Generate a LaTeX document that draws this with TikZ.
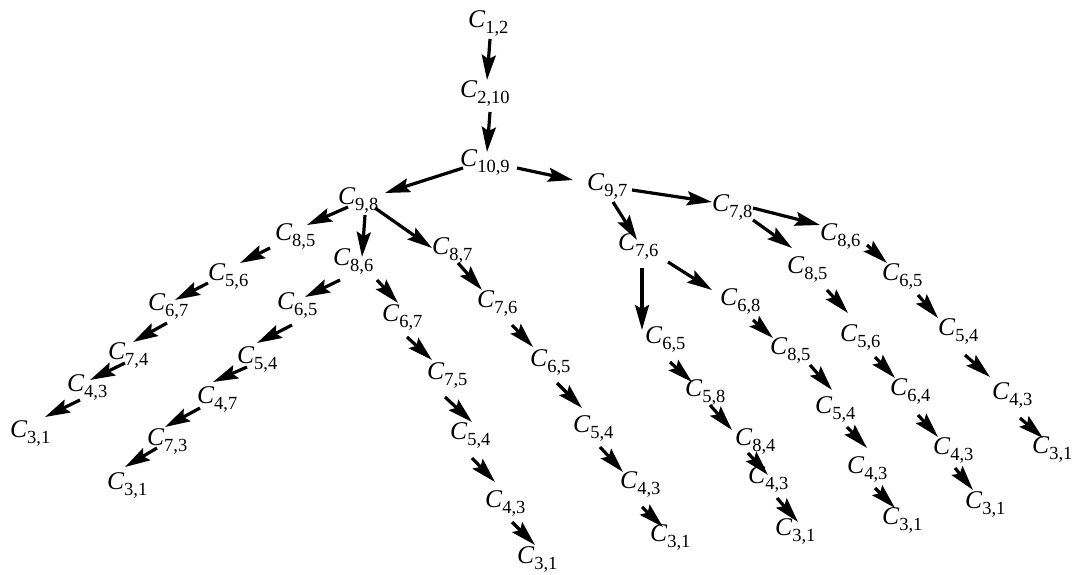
\documentclass[tikz,border=0pt]{standalone}
\usepackage{fontspec}
\setmainfont{Liberation Serif}
\usetikzlibrary{arrows.meta}
\newcommand{\Cs}[1]{\textit{C}\raisebox{-6pt}{\fontsize{18.5}{18.5}\selectfont #1}}
\newcommand{\lnk}[4]{\draw[conn] ([shift={#2}]#1.base west) -- ([shift={#4}]#3.base west);}
\tikzset{
  lbl/.style={inner sep=0pt, outer sep=0pt, anchor=base west, font=\fontsize{25.5}{30}\selectfont},
  conn/.style={line width=3.2pt, -{Stealth[length=25pt,width=14pt,inset=4pt]}}
}
\begin{document}
\begin{tikzpicture}[x=1pt,y=-1pt]
\useasboundingbox (0,0) rectangle (1073,574);
% nodes
\node[lbl] (n12)  at (468,27)  {\Cs{1,2}};
\node[lbl] (n210) at (460,97)  {\Cs{2,10}};
\node[lbl] (n109) at (460,166) {\Cs{10,9}};
\node[lbl] (n98)  at (338,204) {\Cs{9,8}};
\node[lbl] (n97)  at (587,190) {\Cs{9,7}};
\node[lbl] (n78)  at (712,211) {\Cs{7,8}};
\node[lbl] (n86r) at (820,240) {\Cs{8,6}};
\node[lbl] (n76r) at (618,250) {\Cs{7,6}};
\node[lbl] (n85r) at (787,273) {\Cs{8,5}};
\node[lbl] (n65r) at (645,343) {\Cs{6,5}};
\node[lbl] (n68)  at (720,305) {\Cs{6,8}};
\node[lbl] (n56r) at (840,341) {\Cs{5,6}};
\node[lbl] (n85b) at (770,354) {\Cs{8,5}};
\node[lbl] (n54b) at (815,413) {\Cs{5,4}};
\node[lbl] (n43b) at (847,473) {\Cs{4,3}};
\node[lbl] (n31b) at (882,524) {\Cs{3,1}};
\node[lbl] (n58)  at (685,396) {\Cs{5,8}};
\node[lbl] (n84)  at (735,445) {\Cs{8,4}};
\node[lbl] (n43c) at (748,483) {\Cs{4,3}};
\node[lbl] (n31c) at (775,535) {\Cs{3,1}};
\node[lbl] (n65s) at (882,280) {\Cs{6,5}};
\node[lbl] (n54s) at (938,335) {\Cs{5,4}};
\node[lbl] (n43s) at (992,399) {\Cs{4,3}};
\node[lbl] (n31s) at (1032,453) {\Cs{3,1}};
\node[lbl] (n64)  at (890,395) {\Cs{6,4}};
\node[lbl] (n43t) at (933,454) {\Cs{4,3}};
\node[lbl] (n31t) at (965,508) {\Cs{3,1}};
\node[lbl] (n85l) at (275,240) {\Cs{8,5}};
\node[lbl] (n56l) at (208,280) {\Cs{5,6}};
\node[lbl] (n67l) at (148,310) {\Cs{6,7}};
\node[lbl] (n74)  at (108,359) {\Cs{7,4}};
\node[lbl] (n43l) at (67,391)  {\Cs{4,3}};
\node[lbl] (n31l) at (10,437)  {\Cs{3,1}};
\node[lbl] (n86m) at (333,265) {\Cs{8,6}};
\node[lbl] (n65m) at (277,309) {\Cs{6,5}};
\node[lbl] (n54m) at (237,363) {\Cs{5,4}};
\node[lbl] (n47)  at (197,403) {\Cs{4,7}};
\node[lbl] (n73)  at (147,445) {\Cs{7,3}};
\node[lbl] (n31m) at (107,489) {\Cs{3,1}};
\node[lbl] (n87)  at (432,254) {\Cs{8,7}};
\node[lbl] (n67m) at (382,321) {\Cs{6,7}};
\node[lbl] (n76m) at (477,307) {\Cs{7,6}};
\node[lbl] (n75)  at (427,379) {\Cs{7,5}};
\node[lbl] (n65n) at (530,366) {\Cs{6,5}};
\node[lbl] (n54n) at (450,439) {\Cs{5,4}};
\node[lbl] (n43n) at (485,507) {\Cs{4,3}};
\node[lbl] (n31n) at (517,563) {\Cs{3,1}};
\node[lbl] (n54o) at (573,432) {\Cs{5,4}};
\node[lbl] (n43o) at (620,488) {\Cs{4,3}};
\node[lbl] (n31o) at (650,541) {\Cs{3,1}};
% connectors
\lnk{n12}{(22,12)}{n210}{(27,-17)}
\lnk{n210}{(30,15)}{n109}{(27,-14)}
\lnk{n109}{(3,2)}{n98}{(47,-11)}
\lnk{n109}{(57,2)}{n97}{(-14,-10)}
\lnk{n97}{(45,0)}{n78}{(0,-9)}
\lnk{n78}{(41,-3)}{n86r}{(0,-15)}
\lnk{n97}{(26,12)}{n76r}{(19,-10)}
\lnk{n78}{(41,9)}{n85r}{(5,-25)}
\lnk{n76r}{(24,18)}{n65r}{(-3,-13)}
\lnk{n76r}{(50,12)}{n68}{(-8,-15)}
\lnk{n85r}{(40,17)}{n56r}{(8,-28)}
\lnk{n68}{(33,15)}{n85b}{(3,-16)}
\lnk{n85b}{(40,11)}{n54b}{(17,-23)}
\lnk{n54b}{(32,14)}{n43b}{(20,-25)}
\lnk{n43b}{(28,15)}{n31b}{(13,-16)}
\lnk{n65r}{(25,19)}{n58}{(7,-14)}
\lnk{n58}{(25,9)}{n84}{(-3,-15)}
\lnk{n84}{(13,8)}{n43c}{(20,-8)}
\lnk{n43c}{(29,15)}{n31c}{(23,-13)}
\lnk{n86r}{(47,5)}{n65s}{(5,-17)}
\lnk{n65s}{(36,15)}{n54s}{(0,-17)}
\lnk{n54s}{(27,20)}{n43s}{(-2,-22)}
\lnk{n43s}{(28,19)}{n31s}{(11,-15)}
\lnk{n56r}{(35,16)}{n64}{(5,-17)}
\lnk{n64}{(28,20)}{n43t}{(5,-17)}
\lnk{n43t}{(22,14)}{n31t}{(8,-18)}
\lnk{n98}{(10,3)}{n85l}{(32,-15)}
\lnk{n85l}{(-5,8)}{n56l}{(32,-17)}
\lnk{n56l}{(0,3)}{n67l}{(27,-10)}
\lnk{n67l}{(19,13)}{n74}{(25,-17)}
\lnk{n74}{(17,4)}{n43l}{(23,-11)}
\lnk{n43l}{(13,9)}{n31l}{(35,-20)}
\lnk{n98}{(27,11)}{n86m}{(29,-8)}
\lnk{n86m}{(7,15)}{n65m}{(28,-12)}
\lnk{n65m}{(15,16)}{n54m}{(20,-20)}
\lnk{n54m}{(10,4)}{n47}{(16,-21)}
\lnk{n47}{(3,5)}{n73}{(18,-18)}
\lnk{n73}{(10,3)}{n31m}{(18,-22)}
\lnk{n98}{(37,4)}{n87}{(0,-6)}
\lnk{n86m}{(44,15)}{n67m}{(16,-18)}
\lnk{n87}{(26,9)}{n76m}{(5,-17)}
\lnk{n67m}{(25,16)}{n75}{(5,-19)}
\lnk{n76m}{(35,18)}{n65n}{(3,-19)}
\lnk{n75}{(18,18)}{n54n}{(22,-17)}
\lnk{n65n}{(27,17)}{n54o}{(9,-24)}
\lnk{n54n}{(22,19)}{n43n}{(10,-25)}
\lnk{n43n}{(27,15)}{n31n}{(18,-18)}
\lnk{n54o}{(27,15)}{n43o}{(3,-16)}
\lnk{n43o}{(22,19)}{n31o}{(13,-14)}
\end{tikzpicture}
\end{document}
